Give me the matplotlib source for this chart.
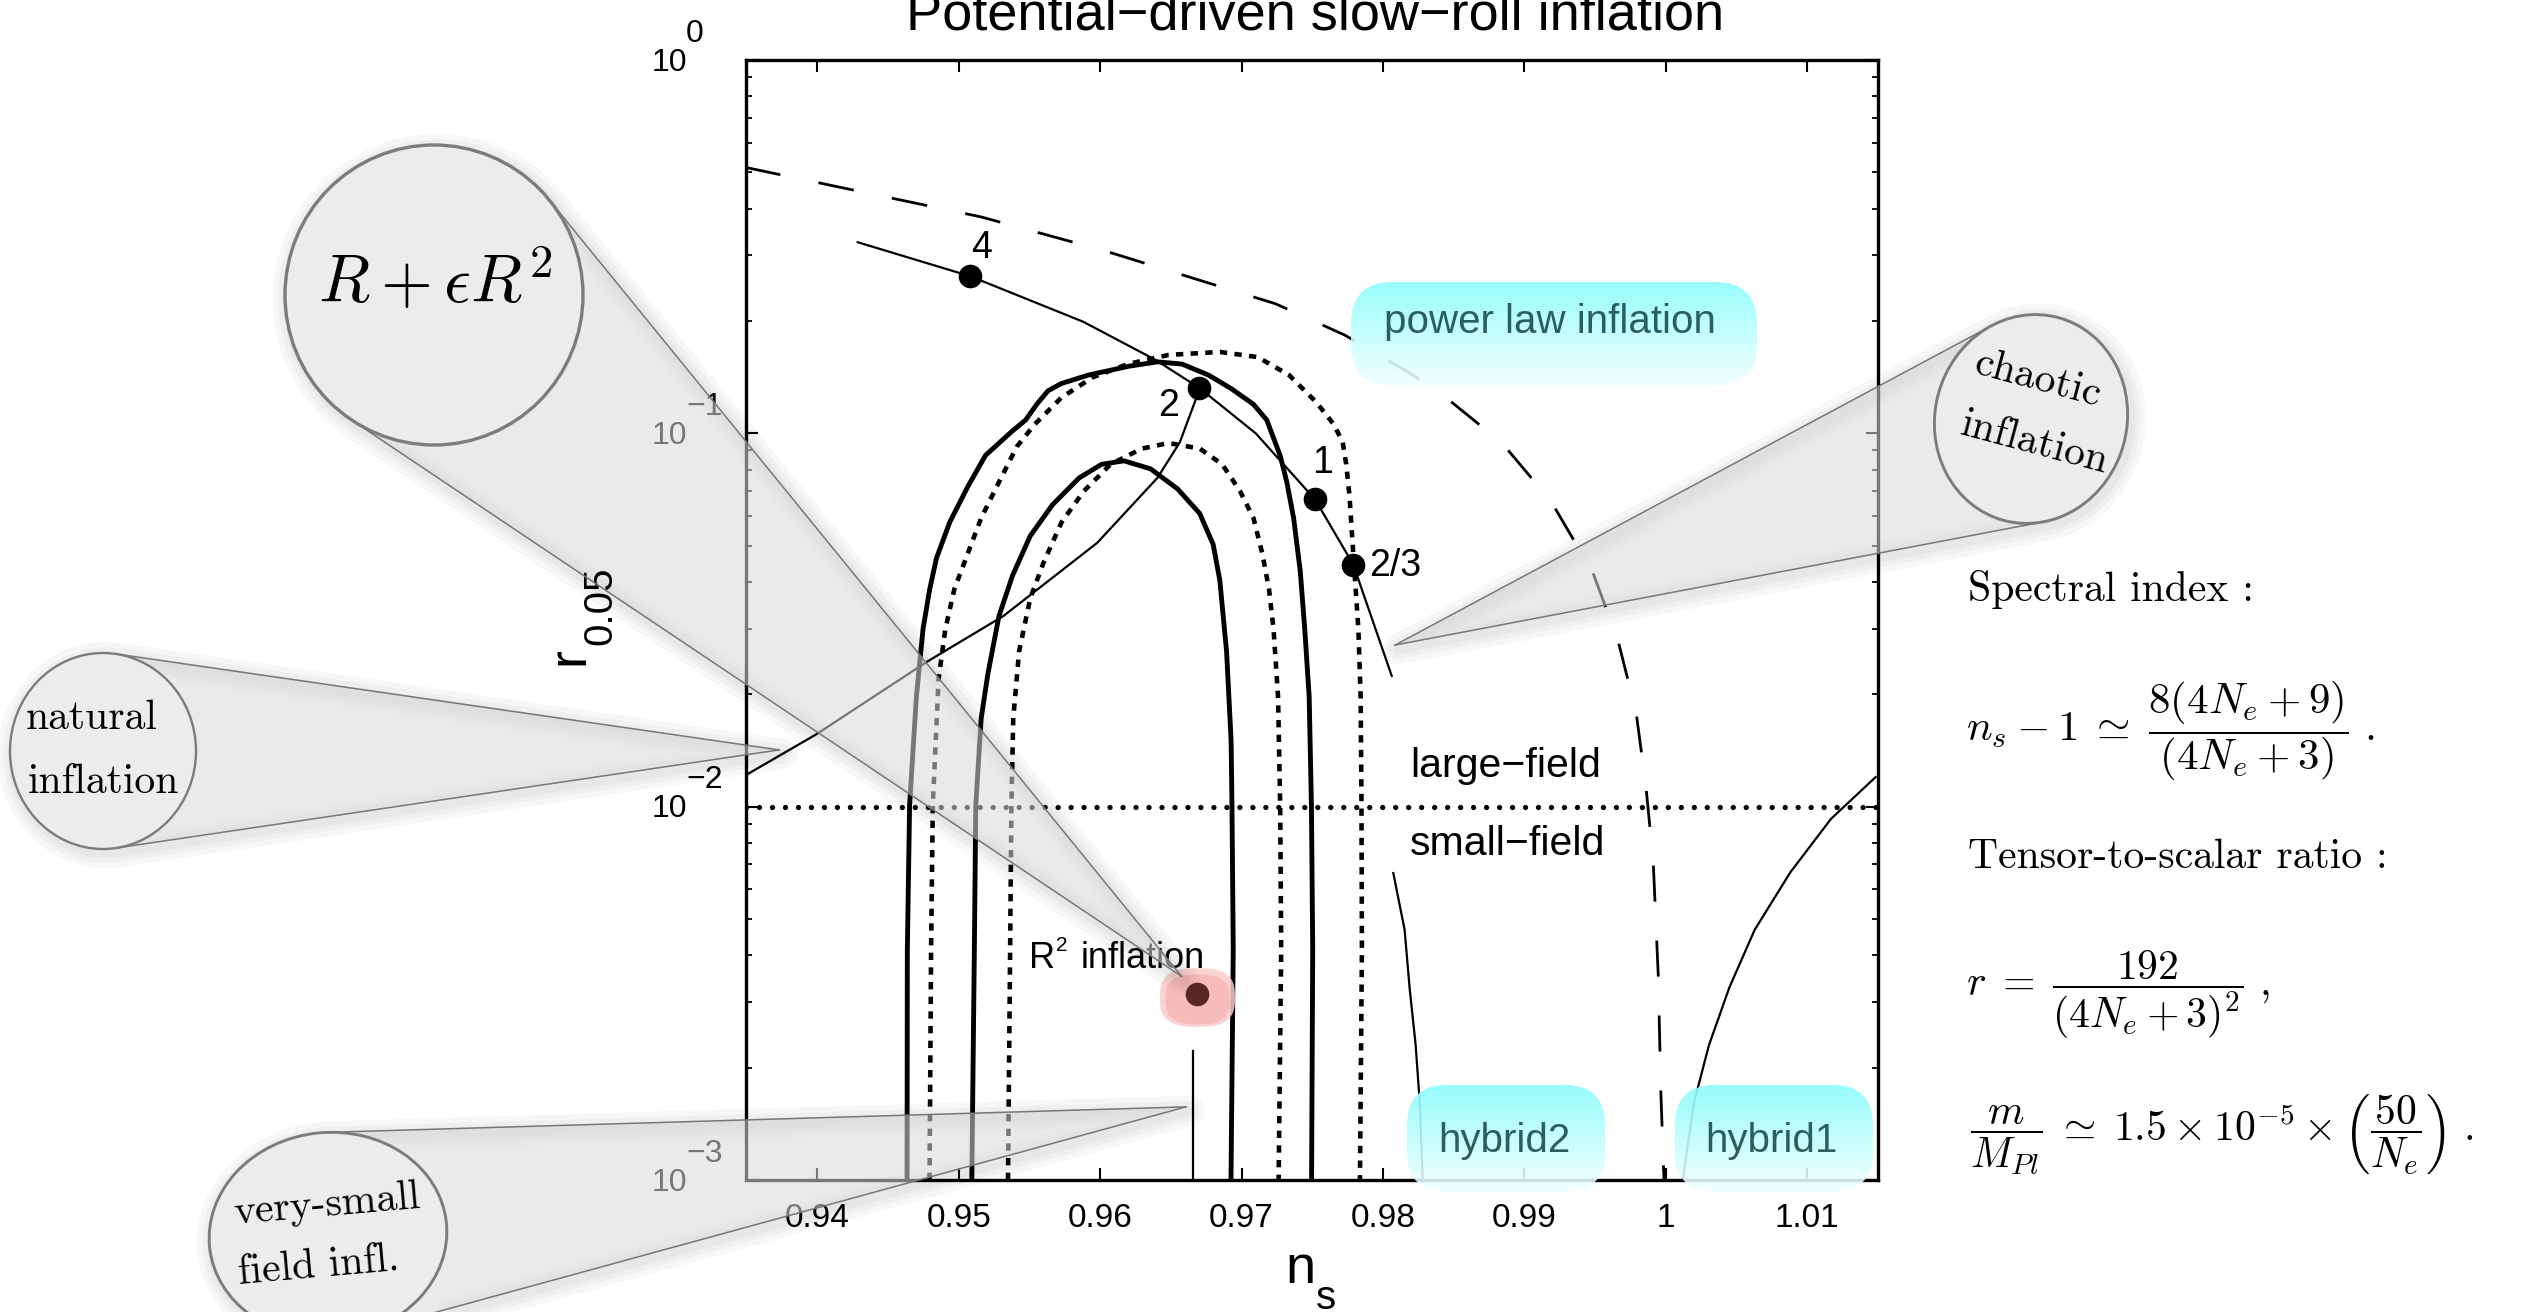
import numpy as np
import matplotlib
matplotlib.use("Agg")
import matplotlib.pyplot as plt
from matplotlib.patches import Ellipse, Polygon, FancyBboxPatch
from matplotlib.path import Path
from matplotlib.ticker import NullLocator

W, H = 2528, 1312
DPI = 100
PT = DPI / 72.0          # pixels per point

plt.rcParams['font.family'] = ['Liberation Sans', 'DejaVu Sans']

# ---------------- data ----------------
# outer 95% contour (solid)
c95_ns = [0.94634, 0.94636, 0.94652, 0.94700, 0.94747, 0.94794, 0.94842, 0.94936, 0.95063,
          0.95189, 0.95378, 0.95473, 0.95552, 0.95631, 0.95726, 0.95915, 0.96200, 0.96405,
          0.96579, 0.96768, 0.96926, 0.97083, 0.97178, 0.97273, 0.97320, 0.97368, 0.97415,
          0.97447, 0.97478, 0.97494, 0.97503, 0.97495]
c95_r = [0.001, 0.00413, 0.01007, 0.0197, 0.0299, 0.0382, 0.0463, 0.0578, 0.0719,
         0.0873, 0.1014, 0.1086, 0.1197, 0.130, 0.136, 0.1432, 0.1512, 0.1554,
         0.1533, 0.1431, 0.1318, 0.1197, 0.1086, 0.0871, 0.0740, 0.0593, 0.0427,
         0.0298, 0.0197, 0.01005, 0.00414, 0.001]
# inner 68% contour (solid)
c68_ns = [0.95092, 0.95110, 0.95120, 0.95158, 0.95205, 0.95284, 0.95379, 0.95505, 0.95663,
          0.95852, 0.96010, 0.96168, 0.96357, 0.96547, 0.96704, 0.96799, 0.96846, 0.96894,
          0.96926, 0.96932, 0.96941, 0.96925]
c68_r = [0.001, 0.00413, 0.01007, 0.0172, 0.0226, 0.0324, 0.0415, 0.0531, 0.0644,
         0.0760, 0.0826, 0.0844, 0.0803, 0.0710, 0.0610, 0.0504, 0.0404, 0.0260,
         0.0150, 0.01005, 0.00413, 0.001]
# outer 95% contour (dotted)
d95_ns = [0.94793, 0.94804, 0.94816, 0.94857, 0.94905, 0.94968, 0.95063, 0.95158, 0.95284,
          0.95410, 0.95537, 0.95726, 0.95947, 0.96200, 0.96484, 0.96847, 0.97115, 0.97336,
          0.97526, 0.97652, 0.97715, 0.97740, 0.97763, 0.97794, 0.97826, 0.97842, 0.97848,
          0.97851, 0.97837]
d95_r = [0.001, 0.00413, 0.01007, 0.0220, 0.0299, 0.0382, 0.0476, 0.0593, 0.0740,
         0.0921, 0.1057, 0.1247, 0.1413, 0.1535, 0.1622, 0.1652, 0.1600, 0.1432,
         0.1214, 0.1057, 0.0947, 0.0826, 0.0681, 0.0451, 0.0299, 0.0197, 0.01005,
         0.00413, 0.001]
# inner 68% contour (dotted)
d68_ns = [0.95348, 0.95363, 0.95372, 0.95385, 0.95426, 0.95505, 0.95600, 0.95726, 0.95884,
          0.96073, 0.96294, 0.96484, 0.96705, 0.96863, 0.96989, 0.97084, 0.97147, 0.97194,
          0.97226, 0.97258, 0.97273, 0.97280, 0.97262]
d68_r = [0.001, 0.00413, 0.01007, 0.0172, 0.0260, 0.0361, 0.0451, 0.0577, 0.0700,
         0.0826, 0.0910, 0.0942, 0.0910, 0.0826, 0.0700, 0.0593, 0.0476, 0.0382,
         0.0299, 0.0197, 0.01005, 0.00413, 0.001]

# chaotic inflation line and its marked powers
chaotic_ns = [0.94285, 0.9508, 0.9588, 0.9639, 0.9670, 0.9710, 0.9752, 0.9779, 0.98062]
chaotic_r = [0.325, 0.2636, 0.199, 0.1574, 0.1324, 0.100, 0.0665, 0.0445, 0.0224]
power_lbl = ["4", "2", "1", "2/3"]
power_ns = [0.9508, 0.9670, 0.9752, 0.9779]
power_r = [0.2636, 0.1324, 0.0665, 0.0445]

# natural inflation
natural_ns = [0.93453, 0.93989, 0.94779, 0.95315, 0.95979, 0.96405, 0.96563, 0.96699]
natural_r = [0.0119, 0.0156, 0.0245, 0.0324, 0.0509, 0.0760, 0.0946, 0.130]

# power law inflation (dashed)
plaw_ns = [0.93488, 0.95160, 0.96040, 0.97241, 0.97731, 0.98191, 0.98415, 0.98842, 0.99188,
           0.99485, 0.99662, 0.99790, 0.99858, 0.99911, 0.99947, 0.99965, 0.99984, 0.99988]
plaw_r = [0.516, 0.3797, 0.3076, 0.2223, 0.1832, 0.1449, 0.1274, 0.0942, 0.0658,
          0.0423, 0.0279, 0.0179, 0.0115, 0.00716, 0.00352, 0.00173, 0.00108, 0.001]

# hybrid models
hyb2_ns = [0.98073, 0.98153, 0.98188, 0.98231, 0.98260, 0.98281]
hyb2_r = [0.00664, 0.00468, 0.00328, 0.00230, 0.00161, 0.001]
hyb1_ns = [1.00120, 1.00199, 1.00306, 1.00450, 1.00629, 1.00881, 1.01168, 1.01484]
hyb1_r = [0.001, 0.00161, 0.00230, 0.00328, 0.00468, 0.00667, 0.00927, 0.0120]

# very-small field and R^2 inflation
vsf_ns = [0.96658, 0.96658]
vsf_r = [0.00221, 0.001]
r2_ns = [0.96685]
r2_r = [0.00314]

large_small_r = 0.01

xtick_vals = [0.94, 0.95, 0.96, 0.97, 0.98, 0.99, 1.00, 1.01]
xtick_lbls = ["0.94", "0.95", "0.96", "0.97", "0.98", "0.99", "1", "1.01"]
ytick_vals = [1.0, 0.1, 0.01, 0.001]
ytick_exp = ["0", "\u22121", "\u22122", "\u22123"]

# where the callout cones point (data coords)
tip_r2 = (0.96576, 0.00351)
tip_nat = (0.93729, 0.01419)
tip_cha = (0.98086, 0.0271)
tip_vsf = (0.96607, 0.00157)

# ---------------- figure ----------------
fig = plt.figure(figsize=(W / DPI, H / DPI), dpi=DPI)
ax = fig.add_axes([746 / W, 1 - 1180 / H, (1878 - 746) / W, (1180 - 60) / H], zorder=1)
ax.set_yscale('log')
ax.set_xlim(0.93495, 1.01501)
ax.set_ylim(1e-3, 1)

ax.set_xticks(xtick_vals)
ax.xaxis.set_minor_locator(NullLocator())
ax.tick_params(which='major', direction='in', length=8.6, width=1.5, top=True, right=True,
               labelbottom=False, labelleft=False)
ax.tick_params(which='minor', direction='in', length=4.3, width=1.3, right=True)
for sp in ax.spines.values():
    sp.set_linewidth(2.4)

# contours
ax.plot(c95_ns, c95_r, color='k', lw=3.5, solid_joinstyle='round')
ax.plot(c68_ns, c68_r, color='k', lw=3.5, solid_joinstyle='round')
ax.plot(d95_ns, d95_r, color='k', lw=3.3, linestyle=(0, (1.6, 1.6)))
ax.plot(d68_ns, d68_r, color='k', lw=3.3, linestyle=(0, (1.6, 1.6)))

# model lines
ax.plot(plaw_ns, plaw_r, color='k', lw=2.0, linestyle=(0, (13, 14)))
ax.plot(chaotic_ns, chaotic_r, color='k', lw=1.6)
ax.plot(natural_ns, natural_r, color='k', lw=1.6)
ax.plot(hyb2_ns, hyb2_r, color='k', lw=1.6)
ax.plot(hyb1_ns, hyb1_r, color='k', lw=1.6)
ax.plot(vsf_ns, vsf_r, color='k', lw=1.6)
ax.axhline(large_small_r, color='k', lw=3.8, linestyle=(0, (0.01, 2.45)), dash_capstyle='round')

ax.plot(power_ns, power_r, 'o', color='k', ms=16)
lbl_off = [(11, 18, 'center'), (-31, -28, 'center'), (7, 26, 'center'), (16, -11, 'left')]
for lb, x, y, (ox, oy, ha) in zip(power_lbl, power_ns, power_r, lbl_off):
    ax.annotate(lb, xy=(x, y), xytext=(ox / PT, oy / PT), textcoords='offset points',
                ha=ha, va='baseline', fontsize=27)

# R^2 point with a soft pink glow
t = np.linspace(0, 2 * np.pi, 90)
gx = np.sign(np.cos(t)) * np.abs(np.cos(t)) ** 0.7 * 1.28
gy = np.sign(np.sin(t)) * np.abs(np.sin(t)) ** 0.7
glow = Path(np.column_stack([gx, gy]), closed=False)
ax.plot(r2_ns, [r2_r[0] * 0.985], marker=glow, ms=54, color='#fbcaca', mec='none', alpha=0.85)
ax.plot(r2_ns, [r2_r[0] * 0.975], marker=glow, ms=46, color='#f7a9a9', mec='none', alpha=0.55)
ax.plot(r2_ns, r2_r, 'o', ms=17, color='#5a2727', mec='none')

# tick labels (Matlab style exponents)
for v, lb in zip(xtick_vals, xtick_lbls):
    ax.annotate(lb, xy=(v, 0), xycoords=('data', 'axes fraction'), xytext=(0, -47 / PT),
                textcoords='offset points', ha='center', va='baseline', fontsize=24)
for v, e in zip(ytick_vals, ytick_exp):
    ax.annotate('10', xy=(0, v), xycoords=('axes fraction', 'data'), xytext=(-59 / PT, -10.7 / PT),
                textcoords='offset points', ha='right', va='baseline', fontsize=23)
    ax.annotate(e, xy=(0, v), xycoords=('axes fraction', 'data'), xytext=(-60 / PT, 18.3 / PT),
                textcoords='offset points', ha='left', va='baseline', fontsize=23)

# ---------------- overlay in pixel coordinates ----------------
ov = fig.add_axes([0, 0, 1, 1], zorder=5)
ov.set_autoscale_on(False)
ov.set_xlim(0, W)
ov.set_ylim(H, 0)
ov.axis('off')
ov.patch.set_alpha(0)


def to_px(p):
    x, y = ax.transData.transform(p)
    return (x, H - y)


def grad_box(x0, y0, x1, y1, rad):
    patch = FancyBboxPatch((x0, y0), x1 - x0, y1 - y0,
                           boxstyle=f"round,pad=0,rounding_size={rad}",
                           transform=ov.transData, fc='none', ec='none')
    ov.add_patch(patch)
    g = np.linspace(0, 1, 80)[:, None, None]
    top = np.array([0.56, 0.99, 0.99, 0.92])
    bot = np.array([0.95, 1.0, 1.0, 0.88])
    img = top + (bot - top) * g
    im = ov.imshow(img, extent=(x0, x1, y1, y0), origin='upper', aspect='auto',
                   interpolation='bilinear', zorder=1.5)
    im.set_clip_path(patch)


def callout(center, w, h, ang, tip, lw):
    cx, cy = center
    a, b = w / 2, h / 2
    th = np.deg2rad(ang)
    c, s = np.cos(th), np.sin(th)
    dx, dy = tip[0] - cx, tip[1] - cy
    qx = (c * dx + s * dy) / a
    qy = (-s * dx + c * dy) / b
    base = np.arctan2(qy, qx)
    off = np.arccos(1 / np.hypot(qx, qy))

    def ell(phi):
        ex, ey = a * np.cos(phi), b * np.sin(phi)
        return cx + c * ex - s * ey, cy + s * ex + c * ey

    p1, p2 = ell(base + off), ell(base - off)
    far = np.linspace(base + off, base - off + 2 * np.pi, 120)
    ox, oy = ell(far)
    outline_x = np.concatenate([[tip[0]], ox, [tip[0]]])
    outline_y = np.concatenate([[tip[1]], oy, [tip[1]]])
    # soft shadow
    for sw in (22, 14, 7):
        ov.plot(outline_x + 3, outline_y + 4, color='k', alpha=0.03, lw=sw,
                solid_joinstyle='round', solid_capstyle='round', zorder=2.5)
    ov.add_patch(Polygon([tip, p1, p2], closed=True, fc='#dadada', ec='none',
                         alpha=0.55, zorder=3))
    for p in (p1, p2):
        ov.plot([tip[0], p[0]], [tip[1], p[1]], color='#777777', lw=1.1, zorder=3.2)
    ov.add_patch(Ellipse(center, w, h, angle=ang, fc='#ececec', ec='#7c7c7c', lw=lw, zorder=4))


# labels inside the plot
teal = '#2b5f5f'
grad_box(1351, 282, 1757, 386, 42)
grad_box(1407, 1085, 1605, 1192, 40)
grad_box(1675, 1085, 1873, 1192, 40)
ov.text(1550, 333, 'power law inflation', color=teal, fontsize=29, ha='center', va='baseline', zorder=2)
ov.text(1504, 1152, 'hybrid2', color=teal, fontsize=29, ha='center', va='baseline', zorder=2)
ov.text(1771, 1152, 'hybrid1', color=teal, fontsize=29, ha='center', va='baseline', zorder=2)
ov.text(1410, 777, 'large\u2212field', fontsize=29.5, ha='left', va='baseline', zorder=2)
ov.text(1410, 855, 'small\u2212field', fontsize=29.5, ha='left', va='baseline', zorder=2)
ov.text(1029, 968, 'R', fontsize=26, ha='left', va='baseline', zorder=2)
ov.text(1056, 951, '2', fontsize=15, ha='left', va='baseline', zorder=2)
ov.text(1081, 968, 'inflation', fontsize=26, ha='left', va='baseline', zorder=2)

# callouts
callout((434, 295), 298, 300, 0, to_px(tip_r2), 2.4)
callout((103, 751), 186, 196, 0, to_px(tip_nat), 1.7)
callout((2031, 419), 192, 210, 15, to_px(tip_cha), 2.1)
callout((328, 1235), 238, 205, -6, to_px(tip_vsf), 2.1)

ov.text(435, 283, r'$R + \epsilon R^2$', math_fontfamily='cm', fontsize=48,
        ha='center', va='center', zorder=6)
ov.text(26, 729, 'natural', family='cmr10', fontsize=30, ha='left', va='baseline', zorder=6)
ov.text(28, 793, 'inflation', family='cmr10', fontsize=30, ha='left', va='baseline', zorder=6)
ov.text(2038, 379, 'chaotic', family='cmr10', fontsize=30, rotation=-15, rotation_mode='anchor',
        ha='center', va='center', zorder=6)
ov.text(2035, 443, 'inflation', family='cmr10', fontsize=30, rotation=-15, rotation_mode='anchor',
        ha='center', va='center', zorder=6)
ov.text(327, 1205, 'very-small', family='cmr10', fontsize=30, rotation=5, rotation_mode='anchor',
        ha='center', va='center', zorder=6)
ov.text(319, 1266, 'field infl.', family='cmr10', fontsize=30, rotation=5, rotation_mode='anchor',
        ha='center', va='center', zorder=6)

# axis labels and title
ov.text(1285, 1283, 'n', fontsize=39, ha='left', va='baseline')
ov.text(1316, 1309, 's', fontsize=29, ha='left', va='baseline')
ov.text(583, 665, 'r', fontsize=39, rotation=90, rotation_mode='anchor', ha='left', va='baseline')
ov.text(611, 645, '0.05', fontsize=29, rotation=90, rotation_mode='anchor', ha='left', va='baseline')
ov.text(1315, 29, 'Potential\u2212driven slow\u2212roll inflation', fontsize=39,
        ha='center', va='baseline')

# formulas on the right
ov.text(1968, 601, 'Spectral index :', family='cmr10', fontsize=30, ha='left', va='baseline')
ov.text(1966, 731, r'$n_s - 1 \;\simeq\; \dfrac{8(4N_e + 9)}{(4N_e + 3)}\ .$',
        math_fontfamily='cm', fontsize=31, ha='left', va='center')
ov.text(1968, 868, 'Tensor-to-scalar ratio :', family='cmr10', fontsize=30, ha='left', va='baseline')
ov.text(1966, 995, r'$r \;=\; \dfrac{192}{(4N_e + 3)^2}\ ,$',
        math_fontfamily='cm', fontsize=30, ha='left', va='center')
ov.text(1970, 1135, r'$\dfrac{m}{M_{Pl}} \;\simeq\; 1.5\times 10^{-5}\times\left(\dfrac{50}{N_e}\right)\ .$',
        math_fontfamily='cm', fontsize=30, ha='left', va='center')

fig.savefig('out.png', dpi=DPI)
